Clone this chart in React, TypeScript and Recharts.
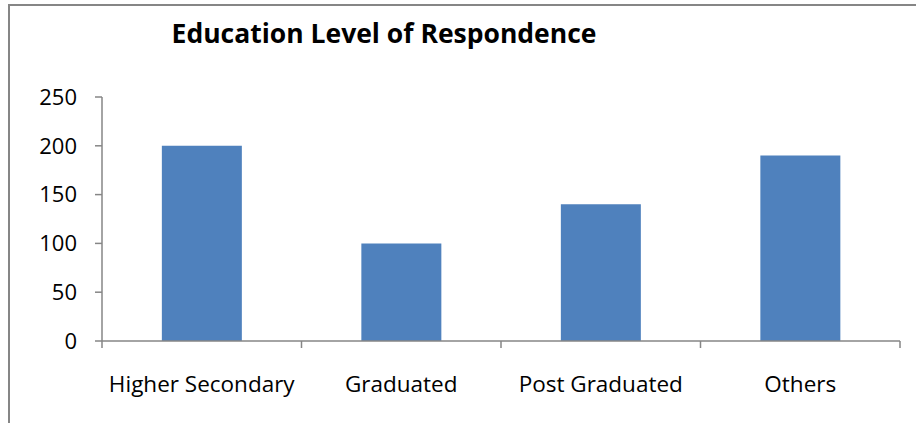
import React from "react";
import { BarChart, Bar, XAxis, YAxis } from "recharts";

const categories = ["Higher Secondary", "Graduated", "Post Graduated", "Others"];
const respondents = [200, 100, 140, 190];
const yTicks = [0, 50, 100, 150, 200, 250];

const W = 916;
const H = 423;
const M = { top: 97, right: 16, bottom: 22, left: 0 };
const Y_AXIS_W = 102;
const X_AXIS_H = 60;
const BAND = (W - M.left - Y_AXIS_W - M.right) / categories.length;
const FONT = "'Open Sans', sans-serif";
const AXIS = "#868686";

const data = categories.map((name, i) => ({ name, value: respondents[i] }));

function CategoryTick(props: any) {
  const { x, y, payload, index } = props;
  return (
    <g>
      {index === 0 && <line x1={x - BAND / 2} y1={y} x2={x - BAND / 2} y2={y + 7} stroke={AXIS} strokeWidth={1.5} />}
      <line x1={x + BAND / 2} y1={y} x2={x + BAND / 2} y2={y + 7} stroke={AXIS} strokeWidth={1.5} />
      <text x={x} y={y + 51} textAnchor="middle" fill="#000" fontSize={22.5} fontFamily={FONT}>
        {payload.value}
      </text>
    </g>
  );
}

export default function App() {
  return (
    <div style={{ position: "absolute", left: 0, top: 0, width: W, height: H, background: "#fff", overflow: "hidden" }}>
      <div
        style={{
          position: "absolute",
          left: 8,
          top: 4,
          width: W,
          height: H,
          borderTop: `2px solid ${AXIS}`,
          borderLeft: `2px solid ${AXIS}`,
        }}
      />
      <div
        style={{
          position: "absolute",
          left: 84,
          width: 600,
          top: 15,
          textAlign: "center",
          fontFamily: FONT,
          fontWeight: 700,
          fontSize: 26.5,
          color: "#000",
        }}
      >
        Education Level of Respondence
      </div>
      <div style={{ position: "absolute", left: 0, top: 0 }}>
        <BarChart width={W} height={H} data={data} margin={M} barCategoryGap="30%">
          <XAxis
            dataKey="name"
            height={X_AXIS_H}
            axisLine={{ stroke: AXIS, strokeWidth: 1.5 }}
            tickLine={false}
            tickSize={0}
            tickMargin={0}
            interval={0}
            tick={<CategoryTick />}
          />
          <YAxis
            width={Y_AXIS_W}
            domain={[0, 250]}
            ticks={yTicks}
            axisLine={{ stroke: AXIS, strokeWidth: 1.5 }}
            tickLine={{ stroke: AXIS, strokeWidth: 1.5 }}
            tickSize={7}
            tickMargin={18}
            tick={{ fill: "#000", fontSize: 22, fontFamily: FONT }}
          />
          <Bar dataKey="value" fill="#4f81bd" isAnimationActive={false} />
        </BarChart>
      </div>
    </div>
  );
}
